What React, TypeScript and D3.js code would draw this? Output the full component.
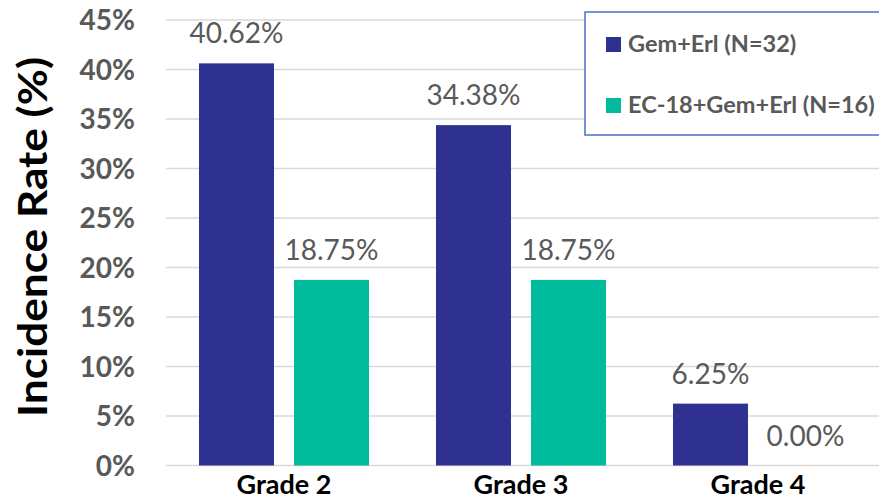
import React from "react";
import * as d3 from "d3";

// Incidence rate by grade for the two treatment arms
const grades = ["Grade 2", "Grade 3", "Grade 4"];
const seriesNames = ["Gem+Erl (N=32)", "EC-18+Gem+Erl (N=16)"];
const gemErl = [40.62, 34.38, 6.25];
const ec18GemErl = [18.75, 18.75, 0.0];
const yTicks = [0, 5, 10, 15, 20, 25, 30, 35, 40, 45];

const colors = ["#2E3190", "#00BB9C"];
const W = 879;
const H = 500;
const FONT = "Lato, 'Open Sans', sans-serif";

export default function App() {
  const y = d3.scaleLinear().domain([0, 45]).range([465.5, 20]);
  const x0 = d3.scaleBand<string>().domain(grades).range([165.5, 876.5]).paddingInner(0).paddingOuter(0);
  const x1 = d3
    .scaleBand<string>()
    .domain(seriesNames)
    .range([0, x0.bandwidth()])
    .paddingInner(0.2105)
    .paddingOuter(0.3526);

  const values = [gemErl, ec18GemErl];

  return (
    <svg
      width={W}
      height={H}
      style={{ position: "absolute", left: 0, top: 0, background: "#fff" }}
      fontFamily={FONT}
    >
      {/* horizontal gridlines and tick labels */}
      {yTicks.map((t) => (
        <g key={t}>
          <line x1={166} x2={W} y1={y(t)} y2={y(t)} stroke="#D9D9D9" strokeWidth={1.5} />
          <text
            x={135}
            y={y(t)}
            dy={10}
            textAnchor="end"
            fontSize={28}
            fontWeight={700}
            fill="#595959"
          >
            {`${t}%`}
          </text>
        </g>
      ))}

      {/* bars with value labels */}
      {grades.map((g, gi) => (
        <g key={g} transform={`translate(${x0(g)},0)`}>
          {seriesNames.map((s, si) => {
            const v = values[si][gi];
            const bx = x1(s)!;
            return (
              <g key={s}>
                <rect
                  x={bx}
                  y={y(v)}
                  width={x1.bandwidth()}
                  height={y(0) - y(v)}
                  fill={colors[si]}
                />
                <text
                  x={bx + x1.bandwidth() / 2}
                  y={y(v) - 20}
                  textAnchor="middle"
                  fontSize={28}
                  fill="#595959"
                >
                  {`${v.toFixed(2)}%`}
                </text>
              </g>
            );
          })}
          <text
            x={x0.bandwidth() / 2}
            y={494}
            textAnchor="middle"
            fontSize={26}
            fontWeight={700}
            fill="#000"
            textLength={95}
            lengthAdjust="spacingAndGlyphs"
          >
            {g}
          </text>
        </g>
      ))}

      {/* y axis title */}
      <text
        transform="translate(47,237) rotate(-90)"
        textAnchor="middle"
        fontSize={40}
        fontWeight={700}
        fill="#000"
        textLength={360}
        lengthAdjust="spacingAndGlyphs"
      >
        Incidence Rate (%)
      </text>

      {/* legend */}
      <g>
        <rect x={585} y={12} width={310} height={123} fill="#fff" stroke="#4472C4" strokeWidth={1.5} />
        {seriesNames.map((s, i) => (
          <g key={s} transform={`translate(606,${37 + i * 61})`}>
            <rect x={0} y={0} width={15} height={15} fill={colors[i]} />
            <text x={22} y={15} fontSize={23.5} fontWeight={700} fill="#595959">
              {s}
            </text>
          </g>
        ))}
      </g>
    </svg>
  );
}
